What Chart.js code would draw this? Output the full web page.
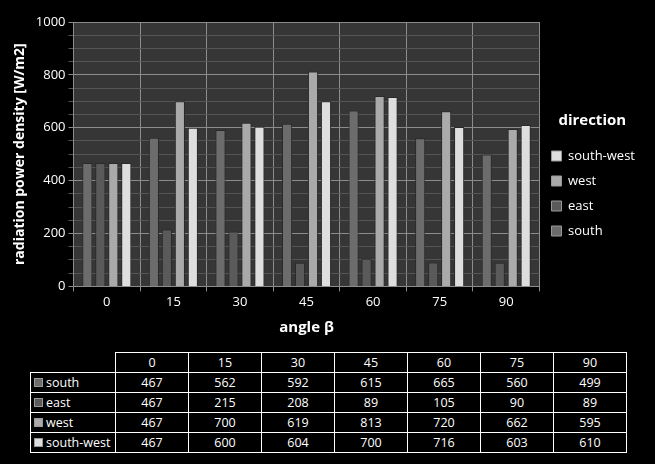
<!DOCTYPE html>
<html>
<head>
<meta charset="utf-8">
<script src="https://cdn.jsdelivr.net/npm/chart.js@4"></script>
<style>
  html, body { margin: 0; padding: 0; background: #000; }
  body { width: 655px; height: 464px; position: relative; overflow: hidden; font-family: "Open Sans", Lato, sans-serif; color: #fff; }
  #chartBox { position: absolute; left: 0; top: 0; width: 655px; height: 345px; }
  #dataTable { position: absolute; left: 30px; top: 352px; border-collapse: collapse; font-size: 12.5px; }
  #dataTable td { border: 1px solid #fff; height: 19px; padding: 0 3px; text-align: center; }
  #dataTable td.name { text-align: left; width: 78px; white-space: nowrap; }
  #dataTable td.corner { border-top: none; border-left: none; }
  #dataTable .val { width: 66px; }
  .swatch { display: inline-block; width: 7px; height: 7px; margin-right: 3px; border: 1px solid #999; vertical-align: 0px; }
</style>
</head>
<body>
<div id="chartBox"><canvas id="barChart"></canvas></div>
<table id="dataTable"></table>
<script>
document.addEventListener('DOMContentLoaded', function() {
    var angles = ['0', '15', '30', '45', '60', '75', '90'];
    var directions = ['south', 'east', 'west', 'south-west'];
    var southValues = [467, 562, 592, 615, 665, 560, 499];
    var eastValues = [467, 215, 208, 89, 105, 90, 89];
    var westValues = [467, 700, 619, 813, 720, 662, 595];
    var southWestValues = [467, 600, 604, 700, 716, 603, 610];
    var yTicks = [0, 200, 400, 600, 800, 1000];

    var seriesValues = [southValues, eastValues, westValues, southWestValues];
    var seriesColors = ['#6c6c6c', '#5a5a5a', '#aaaaaa', '#dedede'];

    var ctx = document.getElementById('barChart').getContext('2d');

    function barGradient(color) {
        return function(context) {
            var chart = context.chart;
            var el = context.element;
            if (!chart.chartArea || !el || el.width === undefined) return color;
            var g = chart.ctx.createLinearGradient(el.x - el.width / 2, 0, el.x + el.width / 2, 0);
            g.addColorStop(0, color);
            g.addColorStop(0.55, color);
            g.addColorStop(1, '#3a3a3a');
            return g;
        };
    }

    var datasets = directions.map(function(name, i) {
        return {
            label: name,
            data: seriesValues[i],
            backgroundColor: barGradient(seriesColors[i]),
            borderColor: '#2a2a2a',
            borderWidth: 1,
            categoryPercentage: 0.78,
            barPercentage: 0.78
        };
    });

    // dark floor behind the plot
    var plotBackground = {
        id: 'plotBackground',
        beforeDraw: function(chart) {
            var a = chart.chartArea;
            var c = chart.ctx;
            c.save();
            c.fillStyle = '#363636';
            c.fillRect(a.left, a.top, a.right - a.left, a.bottom - a.top);
            c.restore();
        }
    };

    Chart.defaults.font.family = '"Open Sans", Lato, sans-serif';
    Chart.defaults.color = '#ffffff';

    new Chart(ctx, {
        type: 'bar',
        data: { labels: angles, datasets: datasets },
        plugins: [plotBackground],
        options: {
            responsive: true,
            maintainAspectRatio: false,
            animation: false,
            layout: { padding: { left: 8, right: 10, top: 22, bottom: 4 } },
            plugins: {
                legend: {
                    position: 'right',
                    reverse: true,
                    title: { display: true, text: 'direction', font: { size: 15, weight: 'bold' }, color: '#fff', padding: { bottom: 6 } },
                    labels: {
                        color: '#fff',
                        font: { size: 13 },
                        boxWidth: 10,
                        boxHeight: 10,
                        padding: 12,
                        generateLabels: function(chart) {
                            return chart.data.datasets.map(function(ds, i) {
                                return { text: ds.label, fillStyle: seriesColors[i], strokeStyle: '#999', lineWidth: 1, datasetIndex: i, fontColor: '#fff' };
                            });
                        }
                    }
                },
                tooltip: { enabled: false }
            },
            scales: {
                x: {
                    grid: { color: '#8c8c8c', tickLength: 5, offset: true },
                    border: { color: '#8c8c8c' },
                    ticks: { color: '#fff', font: { size: 13 } },
                    title: { display: true, text: 'angle β', color: '#fff', font: { size: 15, weight: 'bold' }, padding: { top: 6 } }
                },
                y: {
                    min: 0,
                    max: 1000,
                    ticks: {
                        stepSize: 50,
                        autoSkip: false,
                        color: '#fff',
                        font: { size: 13 },
                        callback: function(value) {
                            return yTicks.indexOf(value) >= 0 ? String(value) : '';
                        }
                    },
                    grid: {
                        tickLength: 5,
                        color: function(context) {
                            return yTicks.indexOf(context.tick.value) >= 0 ? '#8c8c8c' : '#555555';
                        }
                    },
                    border: { color: '#8c8c8c' },
                    title: { display: true, text: 'radiation power density [W/m2]', color: '#fff', font: { size: 14, weight: 'bold' } }
                }
            }
        }
    });

    // data table under the chart
    function generateTable(table) {
        var html = '<tr><td class="corner"></td>';
        for (var i = 0; i < angles.length; i++) {
            html += '<td class="val">' + angles[i] + '</td>';
        }
        html += '</tr>';
        for (var s = 0; s < directions.length; s++) {
            html += '<tr><td class="name"><span class="swatch" style="background:' + seriesColors[s] + '"></span>' + directions[s] + '</td>';
            for (var j = 0; j < angles.length; j++) {
                html += '<td>' + seriesValues[s][j] + '</td>';
            }
            html += '</tr>';
        }
        table.innerHTML = html;
    }

    generateTable(document.getElementById('dataTable'));
});
</script>
</body>
</html>
